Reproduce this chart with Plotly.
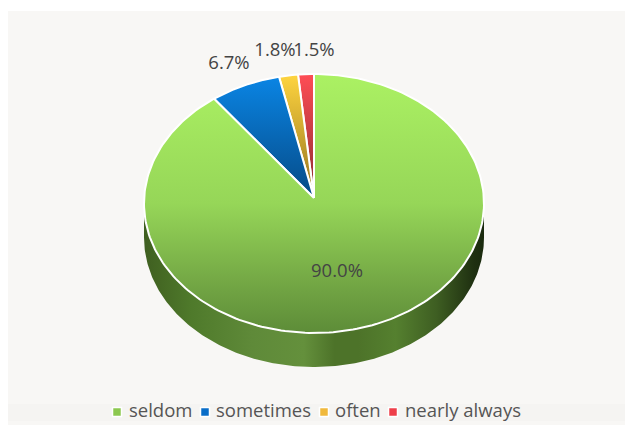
import numpy as np
import plotly.graph_objects as go

categories = ["seldom", "sometimes", "often", "nearly always"]
shares = [90.0, 6.7, 1.8, 1.5]
legend_colors = ["#8cc850", "#0a6ec8", "#f0b93c", "#ee3f4a"]
top_gradients = [
    [[0, "#5d8c38"], [0.2, "#74a845"], [0.5, "#96d658"], [1, "#abf163"]],
    [[0, "#064a86"], [1, "#0a86e6"]],
    [[0, "#94721f"], [1, "#ffd53f"]],
    [[0, "#8a2b30"], [1, "#ff4d55"]],
]

# Pie geometry in page pixels: the lid is a tilted ellipse with an off-centre apex.
CX, CY, RX, RY = 314.0, 203.5, 170.0, 129.5
APEX_Y = 198.0
DEPTH = 34.0
WALL_STOPS = [
    (0.00, "#3f5f20"), (0.14, "#4f7a2b"), (0.32, "#5f8a39"), (0.47, "#64903c"),
    (0.56, "#4d7329"), (0.63, "#4d7329"), (0.74, "#55802f"), (0.86, "#3e5e22"),
    (0.97, "#1f3011"), (1.00, "#1a2a0e"),
]


def rim(start, stop, n=240):
    """Points on the lid's edge between two clockwise fractions measured from twelve o'clock."""
    a = 2 * np.pi * np.linspace(start, stop, n)
    return CX + RX * np.sin(a), CY - RY * np.cos(a)


fig = go.Figure()

# Side wall: lower half of the lid's outline swept down by the pie depth.
wx, wy = rim(0.25, 0.75)
fig.add_trace(go.Scatter(
    x=np.r_[wx, wx[::-1]], y=np.r_[wy, wy[::-1] + DEPTH],
    mode="lines", line=dict(width=0), fill="toself", hoverinfo="skip", showlegend=False,
    fillgradient=dict(type="horizontal", colorscale=WALL_STOPS, start=CX - RX, stop=CX + RX),
))

# Slices run counter-clockwise from twelve o'clock, the largest one last.
total = sum(shares)
end = 1.0
for name, share, grad in zip(categories[::-1], shares[::-1], top_gradients[::-1]):
    start = end - share / total
    x, y = rim(start, end)
    bottom = APEX_Y if share < 50 else CY + RY
    fig.add_trace(go.Scatter(
        x=np.r_[CX, x, CX], y=np.r_[APEX_Y, y, APEX_Y],
        mode="lines", line=dict(color="#ffffff", width=2), fill="toself",
        hoverinfo="skip", showlegend=False,
        fillgradient=dict(type="vertical", colorscale=grad, start=bottom, stop=CY - RY),
    ))
    end = start

# Percentage labels.
label_x = [337, 229, 275, 314]
label_y = [272, 64, 51, 51]
fig.add_trace(go.Scatter(
    x=label_x, y=label_y, mode="text", text=[f"{s:.1f}%" for s in shares],
    textposition="middle center", textfont=dict(family="Open Sans", size=18.5, color="#444444"),
    hoverinfo="skip", showlegend=False,
))

# Legend row: a square swatch followed by its name.
swatch_x = [117, 205, 324, 393]
name_x = [129, 216, 335, 405]
for name, color, sx, nx in zip(categories, legend_colors, swatch_x, name_x):
    fig.add_trace(go.Scatter(
        x=[sx], y=[412], mode="markers",
        marker=dict(symbol="square", size=9, color=color, line=dict(color="#ffffff", width=1.5)),
        hoverinfo="skip", showlegend=False,
    ))
    fig.add_trace(go.Scatter(
        x=[nx], y=[412], mode="text", text=[name], textposition="middle right",
        textfont=dict(family="Open Sans", size=18.5, color="#555555"),
        hoverinfo="skip", showlegend=False,
    ))

fig.update_layout(
    width=625, height=425, margin=dict(l=0, r=0, t=0, b=0),
    paper_bgcolor="#ffffff", plot_bgcolor="rgba(0,0,0,0)", showlegend=False,
    xaxis=dict(range=[0, 625], visible=False, fixedrange=True),
    yaxis=dict(range=[425, 0], visible=False, fixedrange=True),
    shapes=[
        dict(type="rect", xref="x", yref="y", x0=8, y0=11, x1=625, y1=425,
             fillcolor="#f8f7f5", line=dict(width=0), layer="below"),
        dict(type="rect", xref="x", yref="y", x0=8, y0=404, x1=625, y1=421,
             fillcolor="#f5f4f2", line=dict(width=0), layer="below"),
    ],
)

fig.write_html("out.html")
